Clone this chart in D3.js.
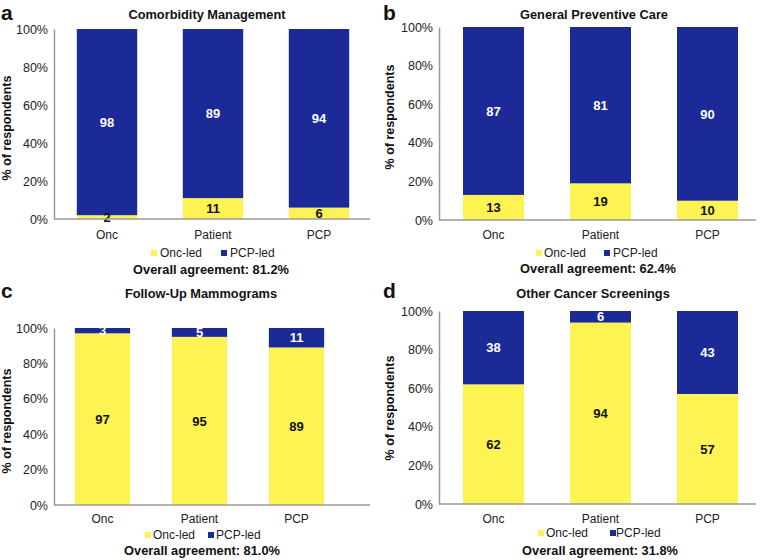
<!DOCTYPE html>
<html><head><meta charset="utf-8">
<script src="https://cdn.jsdelivr.net/npm/d3@7"></script>
<style>body{margin:0;background:#fff}svg{display:block}text{font-family:Arial,"Liberation Sans",sans-serif}</style>
</head><body>
<script>
// ---- data ----
const categories = ["Onc", "Patient", "PCP"];
const panelLetters = ["a", "b", "c", "d"];
const panelTitles = ["Comorbidity Management", "General Preventive Care", "Follow-Up Mammograms", "Other Cancer Screenings"];
const oncLed = [[2, 11, 6], [13, 19, 10], [97, 95, 89], [62, 94, 57]];
const pcpLed = [[98, 89, 94], [87, 81, 90], [3, 5, 11], [38, 6, 43]];
const agreement = ["81.2%", "62.4%", "81.0%", "31.8%"];
const seriesNames = ["Onc-led", "PCP-led"];
const yTicks = [0, 20, 40, 60, 80, 100];

// ---- layout ----
const colors = {"Onc-led": "#fdf352", "PCP-led": "#1b2a96"};
const layout = [
  {axisX:54, top:29, bottom:219, axisEnd:370, band:[54,372], letterY:19.5, titleX:207, titleY:19, catY:239, labelX:11, labelY:128,
   legY:257, leg:[151,160,221,230], overallX:211, overallY:274},
  {axisX:439, top:27, bottom:220, axisEnd:756, band:[440,761], letterY:19.5, titleX:594, titleY:19, catY:239, labelX:394, labelY:117,
   legY:257, leg:[536,544,604,613], overallX:598, overallY:273},
  {axisX:54, top:328, bottom:505, axisEnd:370, band:[54,345], letterY:298, titleX:201, titleY:298, catY:523, labelX:11, labelY:421,
   legY:539, leg:[145,153,208,216], overallX:202, overallY:555},
  {axisX:439, top:311, bottom:504, axisEnd:756, band:[440,761], letterY:298, titleX:593, titleY:298, catY:523, labelX:394, labelY:408,
   legY:537, leg:[538,546,610,616], overallX:600, overallY:555}
];
const letterX = [1, 383, 1, 383];

const svg = d3.select("body").append("svg").attr("width", 762).attr("height", 560);

layout.forEach((L, i) => {
  const g = svg.append("g");
  const x = d3.scaleBand().domain(categories).range(L.band).paddingInner(0.43).paddingOuter(0.215);
  const y = d3.scaleLinear().domain([0, 100]).range([L.bottom, L.top]);

  const rows = categories.map((c, j) => ({cat: c, "Onc-led": oncLed[i][j], "PCP-led": pcpLed[i][j]}));
  const stacked = d3.stack().keys(seriesNames)(rows);

  // bars
  stacked.forEach(s => {
    g.selectAll(null).data(s).enter().append("rect")
      .attr("x", d => x(d.data.cat))
      .attr("width", x.bandwidth())
      .attr("y", d => y(d[1]))
      .attr("height", d => y(d[0]) - y(d[1]))
      .attr("fill", colors[s.key]);
  });
  // value labels
  stacked.forEach(s => {
    g.selectAll(null).data(s).enter().append("text")
      .attr("x", d => x(d.data.cat) + x.bandwidth() / 2)
      .attr("y", d => y((d[0] + d[1]) / 2))
      .attr("dy", "0.36em")
      .attr("text-anchor", "middle")
      .attr("font-size", 13).attr("font-weight", "bold")
      .attr("fill", s.key === "PCP-led" ? "#fff" : "#111")
      .text(d => d[1] - d[0]);
  });

  // y axis
  const yAx = g.append("g").attr("transform", `translate(${L.axisX},0)`)
    .call(d3.axisLeft(y).tickValues(yTicks).tickSize(0).tickPadding(6).tickFormat(d => d + "%"));
  yAx.select(".domain").attr("stroke", "#9a9a9a").attr("stroke-width", 1.5);
  yAx.selectAll("text").attr("font-size", 12.5).attr("fill", "#222").style("font-family", "Arial, 'Liberation Sans', sans-serif");

  // x axis
  const xAx = g.append("g").attr("transform", `translate(0,${L.bottom})`)
    .call(d3.axisBottom(x).tickSize(0).tickPadding(0));
  xAx.select(".domain").remove();
  xAx.selectAll("text").attr("y", L.catY - L.bottom).attr("dy", 0).attr("font-size", 12).attr("fill", "#222")
    .style("font-family", "Arial, 'Liberation Sans', sans-serif");
  g.append("line").attr("x1", L.axisX).attr("x2", L.axisEnd).attr("y1", L.bottom).attr("y2", L.bottom)
    .attr("stroke", "#9a9a9a").attr("stroke-width", 1.5);

  // panel letter
  g.append("text").attr("x", letterX[i]).attr("y", L.letterY).attr("font-size", 21).attr("font-weight", "bold")
    .attr("fill", "#111").text(panelLetters[i]);
  // title
  g.append("text").attr("x", L.titleX).attr("y", L.titleY).attr("text-anchor", "middle")
    .attr("font-size", 12.8).attr("font-weight", "bold").attr("fill", "#111").text(panelTitles[i]);
  // y label
  g.append("text").attr("transform", `translate(${L.labelX},${L.labelY}) rotate(-90)`)
    .attr("text-anchor", "middle").attr("font-size", 12.5).attr("font-weight", "bold").attr("fill", "#111")
    .text("% of respondents");
  // legend
  seriesNames.forEach((n, k) => {
    g.append("rect").attr("x", L.leg[k * 2]).attr("y", L.legY - 7).attr("width", 6).attr("height", 6).attr("fill", colors[n]);
    g.append("text").attr("x", L.leg[k * 2 + 1]).attr("y", L.legY).attr("font-size", 12).attr("fill", "#222").text(n);
  });
  // overall agreement
  g.append("text").attr("x", L.overallX).attr("y", L.overallY).attr("text-anchor", "middle")
    .attr("font-size", 12.8).attr("font-weight", "bold").attr("fill", "#111")
    .text("Overall agreement: " + agreement[i]);
});
</script>
</body></html>
